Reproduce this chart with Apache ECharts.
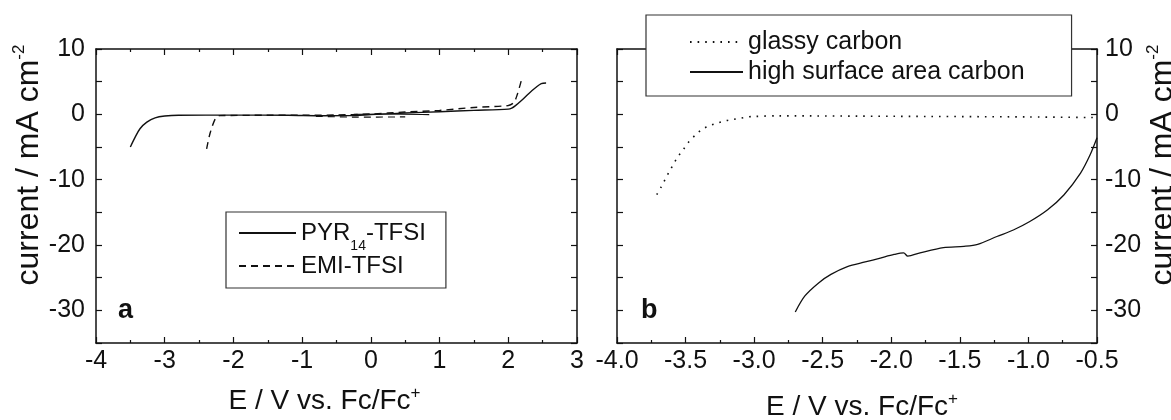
<!DOCTYPE html>
<html>
<head>
<meta charset="utf-8">
<script src="https://cdn.jsdelivr.net/npm/echarts@6/dist/echarts.min.js"></script>
<style>
  html, body { margin: 0; padding: 0; background: #fff; }
  #main { width: 1171px; height: 420px; }
</style>
</head>
<body>
<div id="main"></div>
<script>
// panel a: PYR14-TFSI (solid) and EMI-TFSI (dashed)
var pyrE = [-3.5, -3.43, -3.36, -3.26, -3.14, -3.0, -2.8, -2.0, -1.2, -0.7, -0.3, 0.0, 0.5, 1.0, 1.5, 2.0, 2.05, 2.1, 2.2, 2.3, 2.4, 2.48, 2.55];
var pyrI = [-5.0, -3.5, -2.2, -1.2, -0.53, -0.25, -0.13, -0.12, -0.15, -0.22, -0.2, -0.05, 0.2, 0.4, 0.6, 0.8, 0.95, 1.3, 2.2, 3.2, 4.1, 4.7, 4.8];
var pyrBackE = [-0.25, 0.2, 0.85];
var pyrBackI = [0.0, 0.05, -0.05];
var emiE = [-2.39, -2.34, -2.26, -2.2, -1.5, -1.0, -0.5, 0.0, 0.5, 1.0, 1.5, 2.0, 2.08, 2.13, 2.19];
var emiI = [-5.3, -2.9, -0.6, -0.2, -0.15, -0.15, -0.1, 0.05, 0.35, 0.6, 1.05, 1.35, 1.8, 3.0, 5.2];
var emiBackE = [-0.8, -0.2, 0.5];
var emiBackI = [-0.3, -0.42, -0.4];

// panel b: glassy carbon (dotted) and high surface area carbon (solid)
var glassyE = [-3.71, -3.68, -3.65, -3.62, -3.59, -3.56, -3.52, -3.48, -3.43, -3.38, -3.32, -3.27, -3.21, -3.16, -3.1, -3.05, -3.0, -2.83, -2.0, -1.0, -0.5];
var glassyI = [-12.3, -11.2, -10.0, -8.8, -7.7, -6.6, -5.5, -4.3, -3.2, -2.3, -1.7, -1.35, -1.0, -0.8, -0.6, -0.4, -0.33, -0.23, -0.3, -0.4, -0.5];
var hsacE = [-2.7, -2.63, -2.53, -2.44, -2.32, -2.19, -2.08, -1.98, -1.91, -1.88, -1.79, -1.62, -1.47, -1.37, -1.23, -1.11, -0.99, -0.86, -0.74, -0.62, -0.55, -0.5];
var hsacI = [-30.25, -27.8, -25.8, -24.5, -23.3, -22.6, -22.0, -21.45, -21.2, -21.7, -21.2, -20.4, -20.2, -19.9, -18.7, -17.7, -16.4, -14.6, -12.3, -9.0, -6.2, -3.6];

function pairs(xs, ys) {
  return xs.map(function (x, i) { return [x, ys[i]]; });
}

var FONT = 'Liberation Sans, Arial, sans-serif';
var ink = '#111';

var myChart = echarts.init(document.getElementById('main'));

function tickAxis(extra, titleSize, titlePad) {
  titleSize = titleSize || 28;
  var base = {
    type: 'value',
    axisLine: { show: true, onZero: false, lineStyle: { color: ink, width: 1.5 } },
    axisTick: { show: true, inside: true, length: 6, lineStyle: { color: ink, width: 1.2 } },
    splitLine: { show: false },
    axisLabel: { show: false },
    nameTextStyle: {
      color: ink, fontFamily: FONT, fontSize: titleSize,
      padding: titlePad || 0,
      rich: {
        n: { fontFamily: FONT, fontSize: titleSize, color: ink, lineHeight: titleSize + 4 },
        sup: { fontFamily: FONT, fontSize: 17, color: ink, lineHeight: 12, verticalAlign: 'top' }
      }
    }
  };
  return Object.assign(base, extra);
}

var labelStyle = { show: true, color: ink, fontFamily: FONT, fontSize: 25 };
var minor = { show: true, splitNumber: 2, length: 3, lineStyle: { color: ink, width: 1.2 } };
function tenOnly(v) { return (v % 10 === 0) ? String(v) : ''; }

var yTitle = '{n|current / mA cm}{sup|-2}';
var xTitle = '{n|E / V vs. Fc/Fc}{sup|+}';

myChart.setOption({
  animation: false,
  backgroundColor: '#fff',
  grid: [
    { left: 96, top: 49, width: 481, height: 294, outerBoundsMode: 'none' },
    { left: 617, top: 49, width: 480, height: 294, outerBoundsMode: 'none' }
  ],
  xAxis: [
    tickAxis({
      gridIndex: 0, position: 'bottom', min: -4, max: 3, interval: 1, minorTick: minor,
      axisLabel: Object.assign({ margin: 6 }, labelStyle),
      name: xTitle, nameLocation: 'middle', nameGap: 42
    }, 28, [0, 24, 0, 0]),
    tickAxis({ gridIndex: 0, position: 'top', min: -4, max: 3, interval: 1, minorTick: minor }),
    tickAxis({
      gridIndex: 1, position: 'bottom', min: -4, max: -0.5, interval: 0.5, minorTick: minor,
      axisLabel: Object.assign({ margin: 6, formatter: function (v) { return v.toFixed(1); } }, labelStyle),
      name: xTitle, nameLocation: 'middle', nameGap: 48
    }, 28, [0, 0, 0, 10]),
    tickAxis({ gridIndex: 1, position: 'top', min: -4, max: -0.5, interval: 0.5, minorTick: minor })
  ],
  yAxis: [
    tickAxis({
      gridIndex: 0, position: 'left', min: -35, max: 10, interval: 5,
      axisLabel: Object.assign({ margin: 11, formatter: tenOnly }, labelStyle),
      name: yTitle, nameLocation: 'middle', nameGap: 48
    }, 32, [0, 0, 0, 62]),
    tickAxis({ gridIndex: 0, position: 'right', min: -35, max: 10, interval: 5 }),
    tickAxis({ gridIndex: 1, position: 'left', min: -35, max: 10, interval: 5 }),
    tickAxis({
      gridIndex: 1, position: 'right', min: -35, max: 10, interval: 5,
      axisLabel: Object.assign({ margin: 8, formatter: tenOnly }, labelStyle),
      name: yTitle, nameLocation: 'middle', nameGap: 40
    }, 32, [0, 0, 0, 62])
  ],
  legend: [
    {
      left: 226, top: 212, orient: 'vertical',
      data: ['PYR14-TFSI', 'EMI-TFSI'],
      backgroundColor: '#fff', borderColor: '#333', borderWidth: 1.2,
      padding: [1, 20, 10, 12], itemGap: 1, itemWidth: 57, itemHeight: 14, itemTextGap: 8,
      selectedMode: false,
      itemStyle: { opacity: 0, color: 'rgba(0,0,0,0)', borderWidth: 0 },
      formatter: function (name) {
        if (name === 'PYR14-TFSI') return '{n|PYR}{s|14}{n|-TFSI}';
        return '{n|' + name + '}';
      },
      textStyle: {
        color: ink, fontFamily: FONT, fontSize: 24,
        rich: {
          n: { fontFamily: FONT, fontSize: 24, color: ink, lineHeight: 40 },
          s: { fontFamily: FONT, fontSize: 14, color: ink, lineHeight: 14, padding: [26, 0, 0, 0], verticalAlign: 'bottom' }
        }
      }
    },
    {
      left: 646, top: 15, orient: 'vertical',
      data: ['glassy carbon', 'high surface area carbon'],
      backgroundColor: '#fff', borderColor: '#333', borderWidth: 1.2,
      padding: [12, 47, 9, 43], itemGap: 0, itemWidth: 53, itemHeight: 14, itemTextGap: 11,
      selectedMode: false,
      itemStyle: { opacity: 0, color: 'rgba(0,0,0,0)', borderWidth: 0 },
      textStyle: { color: ink, fontFamily: FONT, fontSize: 25, lineHeight: 30 }
    }
  ],
  graphic: [
    { type: 'text', left: 118, top: 297, style: { text: 'a', fill: ink, font: 'bold 27px ' + FONT } },
    { type: 'text', left: 641, top: 297, style: { text: 'b', fill: ink, font: 'bold 27px ' + FONT } }
  ],
  series: [
    {
      name: 'PYR14-TFSI', type: 'line', xAxisIndex: 0, yAxisIndex: 0,
      data: pairs(pyrE, pyrI), symbol: 'none', smooth: 0.3, silent: true,
      itemStyle: { color: ink }, lineStyle: { color: ink, width: 1.4, type: 'solid' }
    },
    {
      name: 'PYR14-TFSI', type: 'line', xAxisIndex: 0, yAxisIndex: 0,
      data: pairs(pyrBackE, pyrBackI), symbol: 'none', smooth: 0.3, silent: true,
      itemStyle: { color: ink }, lineStyle: { color: ink, width: 1.2, type: 'solid' }
    },
    {
      name: 'EMI-TFSI', type: 'line', xAxisIndex: 0, yAxisIndex: 0,
      data: pairs(emiE, emiI), symbol: 'none', smooth: 0.3, silent: true,
      itemStyle: { color: ink }, lineStyle: { color: ink, width: 1.4, type: [7, 5] }
    },
    {
      name: 'EMI-TFSI', type: 'line', xAxisIndex: 0, yAxisIndex: 0,
      data: pairs(emiBackE, emiBackI), symbol: 'none', smooth: 0.3, silent: true,
      itemStyle: { color: ink }, lineStyle: { color: ink, width: 1.2, type: [7, 5] }
    },
    {
      name: 'glassy carbon', type: 'line', xAxisIndex: 2, yAxisIndex: 3,
      data: pairs(glassyE, glassyI), symbol: 'none', smooth: 0.3, silent: true,
      itemStyle: { color: ink }, lineStyle: { color: ink, width: 1.6, type: [1.6, 6] }
    },
    {
      name: 'high surface area carbon', type: 'line', xAxisIndex: 2, yAxisIndex: 3,
      data: pairs(hsacE, hsacI), symbol: 'none', smooth: 0.3, silent: true,
      itemStyle: { color: ink }, lineStyle: { color: ink, width: 1.3, type: 'solid' }
    }
  ]
});
</script>
</body>
</html>
